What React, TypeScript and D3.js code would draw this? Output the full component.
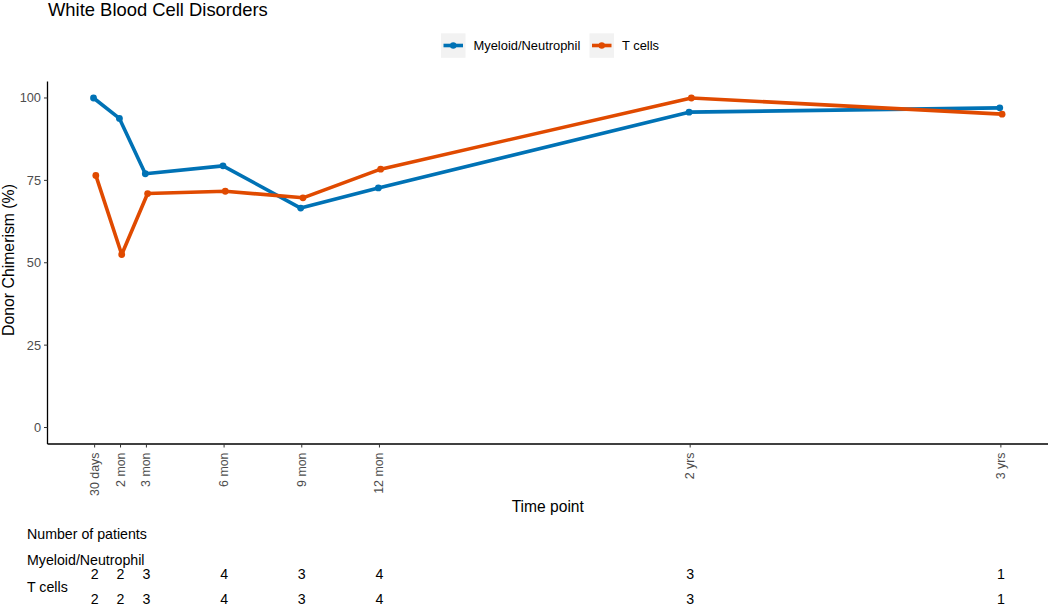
import React from "react";
import * as d3 from "d3";

const timeMonths = [1, 2, 3, 6, 9, 12, 24, 36];
const timeLabels = ["30 days", "2 mon", "3 mon", "6 mon", "9 mon", "12 mon", "2 yrs", "3 yrs"];
const myeloidValues = [100, 93.8, 77.0, 79.4, 66.6, 72.7, 95.7, 97.0];
const tcellValues = [76.5, 52.5, 71.0, 71.7, 69.7, 78.4, 100, 95.1];
const myeloidCounts = [2, 2, 3, 4, 3, 4, 3, 1];
const tcellCounts = [2, 2, 3, 4, 3, 4, 3, 1];
const yTicks = [0, 25, 50, 75, 100];
const seriesNames = ["Myeloid/Neutrophil", "T cells"];

const W = 1050;
const H = 605;
const FONT = "'Liberation Sans', Arial, sans-serif";
const BLUE = "#0072B5";
const ORANGE = "#E04A00";

export default function App() {
  const panel = { left: 47.5, right: 1048, top: 81.5, bottom: 444 };
  const x = d3.scaleLinear().domain([1 - 1.82, 36 + 1.82]).range([panel.left, panel.right]);
  const y = d3.scaleLinear().domain([-5, 105]).range([panel.bottom, panel.top]);

  const series = [
    { name: seriesNames[0], values: myeloidValues, color: BLUE, dodge: -1.1 },
    { name: seriesNames[1], values: tcellValues, color: ORANGE, dodge: 1.2 },
  ];

  const line = (vals: number[], dodge: number) =>
    d3
      .line<number>()
      .x((_, i) => x(timeMonths[i]) + dodge)
      .y((v) => y(v))(vals) as string;

  const legendItems = [
    { name: seriesNames[0], color: BLUE, boxX: 441, textX: 473.5 },
    { name: seriesNames[1], color: ORANGE, boxX: 589.5, textX: 622 },
  ];

  return (
    <svg
      width={W}
      height={H}
      style={{ position: "absolute", left: 0, top: 0, display: "block", background: "#fff" }}
      fontFamily={FONT}
    >
      {/* Title */}
      <text x={48} y={16} fontSize={18.4} fill="#000">
        White Blood Cell Disorders
      </text>

      {/* Legend */}
      {legendItems.map((it) => (
        <g key={it.name}>
          <rect x={it.boxX} y={33.3} width={24.5} height={24.5} fill="#F2F2F2" />
          <line
            x1={it.boxX + 2.5}
            x2={it.boxX + 22}
            y1={45.5}
            y2={45.5}
            stroke={it.color}
            strokeWidth={3.6}
          />
          <circle cx={it.boxX + 12.25} cy={45.5} r={3.2} fill={it.color} />
          <text x={it.textX} y={45.5} fontSize={12.9} dominantBaseline="central" fill="#000">
            {it.name}
          </text>
        </g>
      ))}

      {/* Axes */}
      <line x1={panel.left} x2={panel.left} y1={panel.top} y2={panel.bottom} stroke="#000" strokeWidth={1.3} />
      <line x1={panel.left} x2={panel.right} y1={panel.bottom} y2={panel.bottom} stroke="#000" strokeWidth={1.3} />

      {yTicks.map((t) => (
        <g key={t}>
          <line x1={panel.left - 3.5} x2={panel.left} y1={y(t)} y2={y(t)} stroke="#333" strokeWidth={1} />
          <text
            x={panel.left - 6.5}
            y={y(t)}
            fontSize={12.8}
            fill="#4D4D4D"
            textAnchor="end"
            dominantBaseline="central"
          >
            {t}
          </text>
        </g>
      ))}

      {timeMonths.map((m, i) => (
        <g key={m}>
          <line x1={x(m)} x2={x(m)} y1={panel.bottom} y2={panel.bottom + 3.5} stroke="#333" strokeWidth={1} />
          <text
            transform={`translate(${x(m)},${panel.bottom + 8.5}) rotate(-90)`}
            fontSize={12.4}
            fill="#4D4D4D"
            textAnchor="end"
            dominantBaseline="central"
          >
            {timeLabels[i]}
          </text>
        </g>
      ))}

      {/* Axis titles */}
      <text
        x={(panel.left + panel.right) / 2}
        y={511.5}
        fontSize={15.6}
        textAnchor="middle"
        fill="#000"
      >
        Time point
      </text>
      <text
        transform={`translate(13.5,260) rotate(-90)`}
        fontSize={15.8}
        textAnchor="middle"
        fill="#000"
      >
        Donor Chimerism (%)
      </text>

      {/* Lines and points */}
      {series.map((s) => (
        <g key={s.name}>
          <path d={line(s.values, s.dodge)} fill="none" stroke={s.color} strokeWidth={3.6} strokeLinejoin="round" />
          {s.values.map((v, i) => (
            <circle key={i} cx={x(timeMonths[i]) + s.dodge} cy={y(v)} r={3.4} fill={s.color} />
          ))}
        </g>
      ))}

      {/* Number of patients table */}
      <text x={27} y={539} fontSize={14.2} fill="#000">
        Number of patients
      </text>
      <text x={27} y={565} fontSize={14.2} fill="#000">
        {seriesNames[0]}
      </text>
      <text x={27} y={592} fontSize={14.2} fill="#000">
        {seriesNames[1]}
      </text>
      {myeloidCounts.map((c, i) => (
        <text key={"m" + i} x={x(timeMonths[i])} y={579} fontSize={14.2} textAnchor="middle" fill="#000">
          {c}
        </text>
      ))}
      {tcellCounts.map((c, i) => (
        <text key={"t" + i} x={x(timeMonths[i])} y={603.5} fontSize={14.2} textAnchor="middle" fill="#000">
          {c}
        </text>
      ))}
    </svg>
  );
}
